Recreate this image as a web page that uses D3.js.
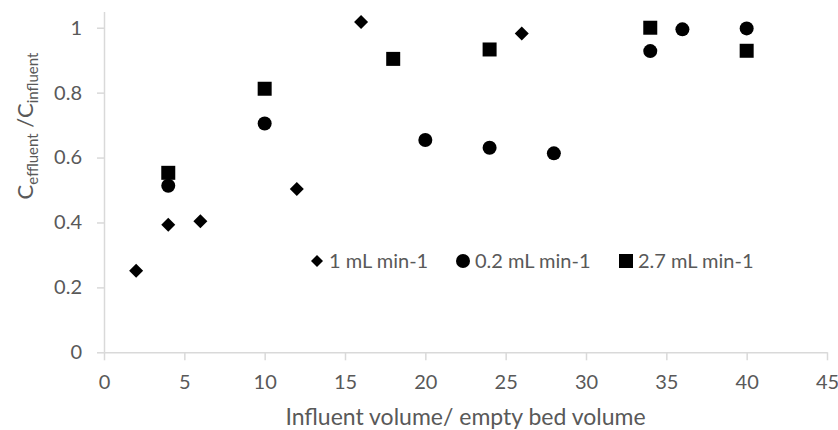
<!DOCTYPE html>
<head>
  <meta charset="utf-8">
  <script src="https://d3js.org/d3.v7.min.js"></script>
  <style>
    body { margin: 0; background: #fff; }
    svg { font-family: Lato, "Open Sans", sans-serif; }
    .axis text { fill: #595959; font-size: 20px; font-family: Lato, sans-serif; }
    .axis line, .axis path { stroke: #d9d9d9; stroke-width: 1.5; }
  </style>
</head>
<body>
  <svg width="838" height="430"></svg>
  <script>
    // series
    var seriesNames = ['1 mL min-1', '0.2 mL min-1', '2.7 mL min-1'];
    var xDiamond = [2, 4, 6, 12, 16, 26];
    var yDiamond = [0.251, 0.393, 0.404, 0.503, 1.018, 0.982];
    var xCircle = [4, 10, 20, 24, 28, 34, 36, 40];
    var yCircle = [0.513, 0.705, 0.654, 0.630, 0.613, 0.928, 0.995, 0.998];
    var xSquare = [4, 10, 18, 24, 34, 40];
    var ySquare = [0.553, 0.812, 0.904, 0.933, 1.0, 0.929];
    var xTicks = [0, 5, 10, 15, 20, 25, 30, 35, 40, 45];
    var yTicks = [0, 0.2, 0.4, 0.6, 0.8, 1];

    var svg = d3.select('svg');
    var x = d3.scaleLinear().domain([0, 45]).range([104, 827]);
    var y = d3.scaleLinear().domain([0, 1.05]).range([352.3, 11.5]);

    // marker shapes
    var shapes = {
      diamond: 'M0,-7L7,0L0,7L-7,0Z',
      circle: d3.symbol(d3.symbolCircle, Math.PI * 49)(),
      square: 'M-7,-7H7V7H-7Z'
    };
    var series = [
      {name: seriesNames[0], shape: 'diamond', xs: xDiamond, ys: yDiamond},
      {name: seriesNames[1], shape: 'circle', xs: xCircle, ys: yCircle},
      {name: seriesNames[2], shape: 'square', xs: xSquare, ys: ySquare}
    ];

    svg.append('g')
      .attr('class', 'axis')
      .attr('transform', 'translate(0,' + y(0) + ')')
      .call(d3.axisBottom(x).tickValues(xTicks).tickSize(8).tickSizeOuter(0).tickPadding(15)
        .tickFormat(function(d) { return String(d); }));

    svg.append('g')
      .attr('class', 'axis')
      .attr('transform', 'translate(' + x(0) + ',0)')
      .call(d3.axisLeft(y).tickValues(yTicks).tickSize(7).tickSizeOuter(0).tickPadding(15)
        .tickFormat(function(d) { return String(d); }));

    // points
    series.forEach(function(s) {
      svg.append('g').selectAll('path')
        .data(s.xs.map(function(v, i) { return [v, s.ys[i]]; }))
        .enter().append('path')
        .attr('d', shapes[s.shape])
        .attr('fill', '#000')
        .attr('transform', function(d) {
          return 'translate(' + [x(d[0]), y(d[1])] + ')';
        });
    });

    // legend
    var legendX = [317, 463, 626];
    var legend = svg.append('g').selectAll('g')
      .data(series).enter().append('g')
      .attr('transform', function(d, i) { return 'translate(' + legendX[i] + ',261)'; });
    legend.append('path')
      .attr('d', function(d) { return d.shape === 'diamond' ? 'M0,-6L6,0L0,6L-6,0Z' : shapes[d.shape]; })
      .attr('fill', '#000');
    legend.append('text')
      .attr('x', 12)
      .attr('dy', '0.35em')
      .attr('fill', '#595959')
      .style('font-size', '20px')
      .text(function(d) { return d.name; });

    // axis titles
    svg.append('text')
      .attr('x', (x(0) + x(45)) / 2)
      .attr('y', 425)
      .attr('text-anchor', 'middle')
      .attr('fill', '#595959')
      .style('font-size', '23px')
      .text('Influent volume/ empty bed volume');

    var yTitle = svg.append('text')
      .attr('transform', 'translate(33,126)rotate(-90)')
      .attr('text-anchor', 'middle')
      .attr('fill', '#595959')
      .style('font-size', '22px');
    yTitle.append('tspan').text('C');
    yTitle.append('tspan').attr('dy', 5).style('font-size', '15px').text('effluent');
    yTitle.append('tspan').attr('dy', -5).text(' /C');
    yTitle.append('tspan').attr('dy', 5).style('font-size', '15px').text('influent');
  </script>
</body>
